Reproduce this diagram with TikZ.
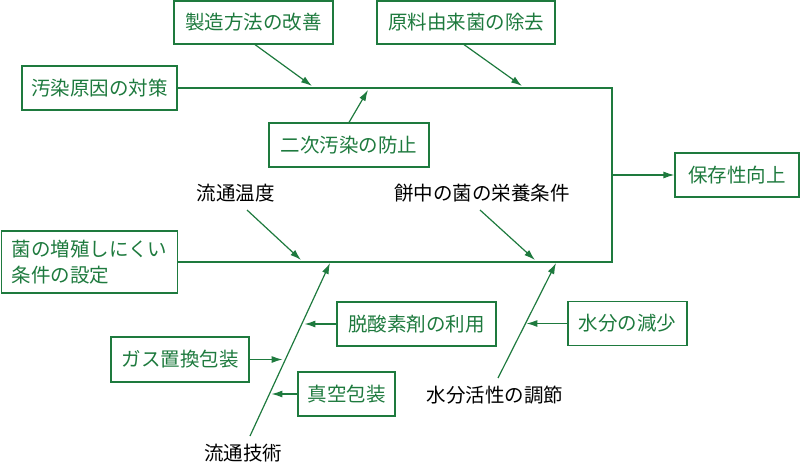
\documentclass[tikz,border=0pt]{standalone}
\usepackage{fontspec}
\setmainfont{Noto Sans CJK JP}
\usetikzlibrary{arrows.meta}
\definecolor{fishgreen}{RGB}{30,122,62}
\tikzset{
  cause/.style={draw=fishgreen, text=fishgreen, line width=1.2pt, minimum height=44pt, inner sep=0pt},
  factor/.style={text=black, inner sep=0pt},
  bone/.style={draw=fishgreen, line width=1.2pt},
  arr/.style={bone, -{Latex[length=11pt,width=7pt]}}
}

\begin{document}
\begin{tikzpicture}[x=1pt, y=-1pt, font=\fontsize{19.5}{26}\selectfont]
\useasboundingbox (0,0) rectangle (800,468);
\node[cause, minimum width=159pt, minimum height=43pt] (seizo) at (253.5,22.5) {製造方法の改善};
\node[cause, minimum width=178pt, minimum height=43pt] (genryo) at (466,22.5) {原料由来菌の除去};
\node[cause, minimum width=155pt] (osen) at (99.5,88) {汚染原因の対策};
\node[cause, minimum width=160pt] (niji) at (349,145) {二次汚染の防止};
\node[cause, minimum width=124pt] (hozon) at (737,175) {保存性向上};
\node[cause, minimum width=176pt, minimum height=62pt, align=left] (kin) at (89.5,262) {菌の増殖しにくい\\条件の設定};
\node[cause, minimum width=138pt, minimum height=45pt] (gas) at (180,359.5) {ガス置換包装};
\node[cause, minimum width=159pt] (datsu) at (416.5,324) {脱酸素剤の利用};
\node[cause, minimum width=97pt] (shinku) at (346.5,394) {真空包装};
\node[cause, minimum width=119pt] (suibun) at (627.5,323.5) {水分の減少};
\node[factor] (ondo) at (235.5,193) {流通温度};
\node[factor] (eiyo) at (482,193) {餅中の菌の栄養条件};
\node[factor] (gijutsu) at (243,453) {流通技術};
\node[factor] (kassei) at (495,395) {水分活性の調節};

\coordinate (tr) at (612,88);
\coordinate (br) at (612,262);
\coordinate (ondoS) at (247,210);
\coordinate (ondoT) at (301,260);
\coordinate (eiyoS) at (480,210);
\coordinate (eiyoT) at (535,260);
\coordinate (gijutsuS) at (250,436);
\coordinate (gijutsuT) at (330,263);
\coordinate (kasseiS) at (498,378);
\coordinate (kasseiT) at (556,263);

\draw[bone] (osen.east) -- (tr) -- (br) -- (kin.east);
\draw[arr] (tr |- hozon) -- (hozon.west);
\draw[arr] (seizo.south -| 255,0) -- (312,86);
\draw[arr] (genryo.south -| 464,0) -- (522,86);
\draw[arr] (niji.north) -- (368,90);
\draw[arr] (ondoS) -- (ondoT);
\draw[arr] (eiyoS) -- (eiyoT);
\draw[arr] (gijutsuS) -- (gijutsuT);
\draw[arr] (kasseiS) -- (kasseiT);
\draw[arr] (datsu.west) -- ++(-32,0);
\draw[arr] (gas.east) -- ++(33,0);
\draw[arr] (shinku.west) -- ++(-26,0);
\draw[arr] (suibun.west) -- ++(-41,0);
\end{tikzpicture}
\end{document}
